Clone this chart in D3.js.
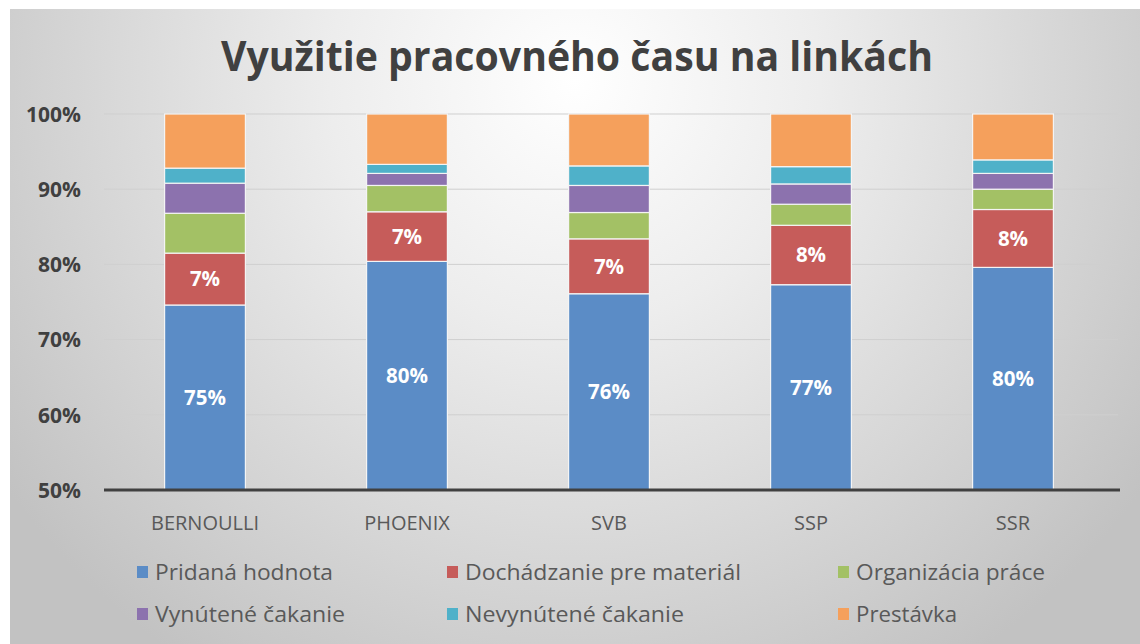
<!DOCTYPE html>
<html><head><meta charset="utf-8">
<script src="https://cdn.jsdelivr.net/npm/d3@7"></script>
<style>html,body{margin:0;padding:0;background:#fff;}svg{display:block;}</style>
</head><body>
<svg id="c" width="1140" height="644"></svg>
<script>
const categories = ["BERNOULLI", "PHOENIX", "SVB", "SSP", "SSR"];
const seriesNames = ["Pridaná hodnota", "Dochádzanie pre materiál", "Organizácia práce", "Vynútené čakanie", "Nevynútené čakanie", "Prestávka"];
const pridanaHodnota = [74.6, 80.4, 76.1, 77.3, 79.6];
const dochadzanie = [6.9, 6.6, 7.3, 7.9, 7.7];
const organizacia = [5.3, 3.5, 3.5, 2.8, 2.7];
const vynuteneCakanie = [4.0, 1.6, 3.6, 2.7, 2.1];
const nevynuteneCakanie = [2.0, 1.2, 2.6, 2.3, 1.8];
const prestavka = [7.2, 6.7, 6.9, 7.0, 6.1];
const yTicks = [50, 60, 70, 80, 90, 100];
const colors = ["#5b8cc6", "#c65c5a", "#a3c165", "#8c72ae", "#4fb1c9", "#f5a05c"];
const labelledSeries = [0, 1];

const seriesValues = [pridanaHodnota, dochadzanie, organizacia, vynuteneCakanie, nevynuteneCakanie, prestavka];
const rows = categories.map((c, i) => {
  const r = {cat: c};
  seriesNames.forEach((s, k) => r[s] = seriesValues[k][i]);
  return r;
});
const stack = d3.stack().keys(seriesNames)(rows);

const svg = d3.select("#c");
const defs = svg.append("defs");
const rg = defs.append("radialGradient").attr("id", "bg")
  .attr("gradientUnits", "userSpaceOnUse")
  .attr("cx", 575).attr("cy", 80).attr("r", 700);
rg.append("stop").attr("offset", "0").attr("stop-color", "#ffffff");
rg.append("stop").attr("offset", "0.35").attr("stop-color", "#ededed");
rg.append("stop").attr("offset", "1").attr("stop-color", "#c2c2c2");

svg.append("rect").attr("x", 10).attr("y", 9).attr("width", 1130).attr("height", 635).attr("fill", "url(#bg)");

const font = "'Open Sans', 'DejaVu Sans', sans-serif";

svg.append("text").attr("x", 577).attr("y", 71).attr("text-anchor", "middle")
  .attr("font-family", font).attr("font-weight", 700).attr("font-size", 42)
  .attr("fill", "#404040").attr("textLength", 712).attr("lengthAdjust", "spacingAndGlyphs")
  .text("Využitie pracovného času na linkách");

const x = d3.scaleBand().domain(categories).range([104, 1114]).paddingInner(0.6).paddingOuter(0.3);
const y = d3.scaleLinear().domain([50, 100]).range([490, 114]);

// gridlines
svg.append("g").selectAll("line").data(yTicks.filter(t => t > 50)).join("line")
  .attr("x1", 104).attr("x2", 1118).attr("y1", d => y(d)).attr("y2", d => y(d))
  .attr("stroke", "#cfcfcf").attr("stroke-width", 1);

// y axis labels
const yAxis = d3.axisLeft(y).tickValues(yTicks).tickFormat(d => d + "%").tickSize(0).tickPadding(0);
const ya = svg.append("g").attr("transform", "translate(81,0)").call(yAxis);
ya.select(".domain").remove();
ya.selectAll("text").attr("font-family", font).attr("font-weight", 700).attr("font-size", 21)
  .attr("fill", "#404040").attr("dy", "0.35em");

// bars
const clipped = v => Math.max(v, 50);
const g = svg.append("g");
stack.forEach((layer, k) => {
  g.append("g").selectAll("rect").data(layer).join("rect")
    .attr("x", d => x(d.data.cat))
    .attr("width", x.bandwidth())
    .attr("y", d => y(d[1]))
    .attr("height", d => y(clipped(d[0])) - y(d[1]))
    .attr("fill", colors[k])
    .attr("stroke", "#f4f4f4").attr("stroke-width", 1.2);
});

// labels
labelledSeries.forEach(k => {
  const layer = stack[k];
  g.append("g").selectAll("text").data(layer).join("text")
    .attr("x", d => x(d.data.cat) + x.bandwidth() / 2)
    .attr("y", d => (y(clipped(d[0])) + y(d[1])) / 2)
    .attr("dy", "0.36em")
    .attr("text-anchor", "middle")
    .attr("font-family", font).attr("font-weight", 700).attr("font-size", 20.5)
    .attr("fill", "#ffffff")
    .text(d => Math.round(d[1] - d[0]) + "%");
});

// x axis
svg.append("line").attr("x1", 104).attr("x2", 1120).attr("y1", 490).attr("y2", 490)
  .attr("stroke", "#404040").attr("stroke-width", 3);
const xAxis = d3.axisBottom(x).tickSize(0).tickPadding(0);
const xa = svg.append("g").attr("transform", "translate(0,523)").call(xAxis);
xa.select(".domain").remove();
xa.selectAll("text").attr("font-family", font).attr("font-size", 20).attr("fill", "#595959")
  .attr("dy", "0.35em").attr("y", 0);

// legend
const legendPos = [[137, 572], [447, 572], [838, 572], [137, 614], [447, 614], [838, 614]];
const legendW = [178, 276, 189, 190, 219, 101];
const lg = svg.append("g").selectAll("g").data(seriesNames).join("g")
  .attr("transform", (d, i) => `translate(${legendPos[i][0]},${legendPos[i][1]})`);
lg.append("rect").attr("x", 0).attr("y", -6).attr("width", 11).attr("height", 12)
  .attr("fill", (d, i) => colors[i]);
lg.append("text").attr("x", 18).attr("y", 0).attr("dy", "0.35em")
  .attr("font-family", font).attr("font-size", 22).attr("fill", "#595959")
  .attr("textLength", (d, i) => legendW[i]).attr("lengthAdjust", "spacingAndGlyphs")
  .text(d => d);
</script>
</body></html>
